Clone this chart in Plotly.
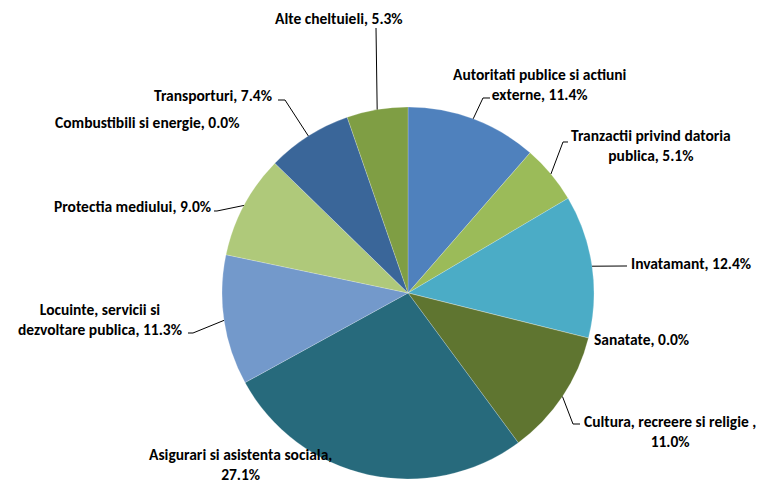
"""Pie chart of spending by function, Excel-style outside labels."""

import math

import plotly.graph_objects as go

# Data (clockwise from 12 o'clock)
CATEGORIES = [
    "Autoritati publice si actiuni externe",
    "Tranzactii privind datoria publica",
    "Invatamant",
    "Sanatate",
    "Cultura, recreere si religie ",
    "Asigurari si asistenta sociala",
    "Locuinte, servicii si dezvoltare publica",
    "Protectia mediului",
    "Combustibili si energie",
    "Transporturi",
    "Alte cheltuieli",
]
SHARES = [11.4, 5.1, 12.4, 0.0, 11.0, 27.1, 11.3, 9.0, 0.0, 7.4, 5.3]
LABEL_TEXT = [
    "Autoritati publice si actiuni<br>externe, 11.4%",
    "Tranzactii privind datoria<br>publica, 5.1%",
    "Invatamant, 12.4%",
    "Sanatate, 0.0%",
    "Cultura, recreere si religie ,<br>11.0%",
    "Asigurari si asistenta sociala,<br>27.1%",
    "Locuinte, servicii si<br>dezvoltare publica, 11.3%",
    "Protectia mediului, 9.0%",
    "Combustibili si energie, 0.0%",
    "Transporturi, 7.4%",
    "Alte cheltuieli, 5.3%",
]
COLOURS = [
    "#4F81BD", "#9BBB59", "#4BACC6", "#C0504D", "#5F7530", "#276A7C",
    "#7399CB", "#AFC97A", "#F79646", "#3A6699", "#7F9E44",
]

# Window geometry (pixels); body margin is removed so the figure fills it.
W, H = 761, 485
CX, CY, R = 408, 293, 186
FONT = dict(family="Carlito, Calibri, Lato, sans-serif", size=15.5, color="#000000")

# Label layout (window pixels): text anchor and leader-line elbow points.
LABEL_LAYOUT = [
    dict(x=540, y=84, xa="center", leader=[(483, 98), (490, 98)]),
    dict(x=651, y=145, xa="center", leader=[(563, 142), (568, 142)]),
    dict(x=629, y=263, xa="left", leader=[(627, 266)]),
    dict(x=592, y=339, xa="left", leader=None),
    dict(x=670, y=431, xa="center", leader=[(573, 424), (580, 424)]),
    dict(x=240, y=464, xa="center", leader=None),
    dict(x=100, y=319, xa="center", leader=[(193, 333), (188, 333)]),
    dict(x=213, y=206, xa="right", leader=[(217, 211), (214, 211)]),
    dict(x=241, y=122, xa="right", leader=None),
    dict(x=274, y=96, xa="right", leader=[(285, 100), (278, 100)]),
    dict(x=339, y=19, xa="center", leader=[(376, 28)]),
]


def px(x):
    return x / W


def py(y):
    return 1 - y / H


fig = go.Figure()
fig.add_trace(
    go.Pie(
        labels=CATEGORIES,
        values=SHARES,
        sort=False,
        direction="clockwise",
        rotation=0,
        marker=dict(colors=COLOURS, line=dict(color="rgba(255,255,255,0.35)", width=0.6)),
        textinfo="none",
        hovertemplate="%{label}<br>%{percent}<extra></extra>",
        domain=dict(x=[px(CX - R), px(CX + R)], y=[py(CY + R), py(CY - R)]),
    )
)

# Leader lines start at the slice's mid-angle on the rim.
total = sum(SHARES)
cum = 0.0
shapes = []
for share, lay in zip(SHARES, LABEL_LAYOUT):
    mid = (cum + share / 2) / total * 2 * math.pi
    cum += share
    if not lay["leader"]:
        continue
    pts = [(CX + R * math.sin(mid), CY - R * math.cos(mid))] + lay["leader"]
    path = "M " + " L ".join(f"{px(x):.5f},{py(y):.5f}" for x, y in pts)
    shapes.append(
        dict(type="path", xref="paper", yref="paper", path=path,
             line=dict(color="#000000", width=1))
    )

annotations = [
    dict(x=px(lay["x"]), y=py(lay["y"]), xref="paper", yref="paper",
         text=f"<b>{txt}</b>", showarrow=False, xanchor=lay["xa"],
         yanchor="middle", align="center", font=FONT)
    for txt, lay in zip(LABEL_TEXT, LABEL_LAYOUT)
]

fig.update_layout(
    width=W,
    height=H,
    margin=dict(l=0, r=0, t=0, b=0),
    paper_bgcolor="#FFFFFF",
    plot_bgcolor="#FFFFFF",
    showlegend=False,
    shapes=shapes,
    annotations=annotations,
)

fig.write_html(
    "out.html",
    config={"displayModeBar": False},
    post_script="document.body.style.margin='0';",
)
